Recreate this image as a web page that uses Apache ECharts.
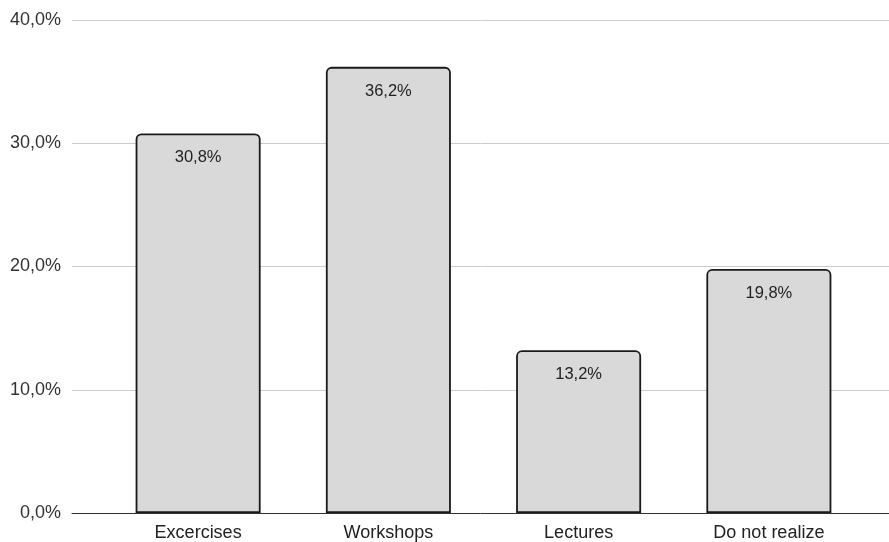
<!DOCTYPE html>
<html>
<head>
<meta charset="utf-8">
<script src="https://cdn.jsdelivr.net/npm/echarts@6/dist/echarts.min.js"></script>
<style>
  html, body { margin: 0; padding: 0; background: #fff; }
  #chart { width: 889px; height: 542px; }
</style>
</head>
<body>
<div id="chart"></div>
<script>
// Share of respondents by preferred format (percent)
const categories = ['Excercises', 'Workshops', 'Lectures', 'Do not realize'];
const shares = [30.8, 36.2, 13.2, 19.8];
const yTicks = [0, 10, 20, 30, 40];

const fmt = v => v.toFixed(1).replace('.', ',') + '%';
const FONT = '"Liberation Sans", Arial, Helvetica, sans-serif';

const chart = echarts.init(document.getElementById('chart'));
chart.setOption({
  animation: false,
  textStyle: { fontFamily: FONT },
  grid: [
    // full-width grid carrying the value axis, gridlines and baseline
    { left: 72, right: 0, top: 20, bottom: 29 },
    // inner grid where the category bars sit
    { left: 103, right: 25, top: 20, bottom: 29 }
  ],
  xAxis: [
    {
      gridIndex: 0, type: 'value', min: 0, max: 1,
      axisLine: { show: true, onZero: false, lineStyle: { color: '#333', width: 1 } },
      axisTick: { show: false }, axisLabel: { show: false }, splitLine: { show: false }
    },
    {
      gridIndex: 1, type: 'category', data: categories,
      axisLine: { show: false }, axisTick: { show: false },
      axisLabel: { color: '#222', fontSize: 18, margin: 11, fontFamily: FONT }
    }
  ],
  yAxis: [
    {
      gridIndex: 0, type: 'value', min: yTicks[0], max: yTicks[yTicks.length - 1], interval: 10,
      axisLine: { show: false }, axisTick: { show: false },
      axisLabel: { color: '#333', fontSize: 18, margin: 11, formatter: v => fmt(v), fontFamily: FONT },
      splitLine: { lineStyle: { color: '#cccccc', width: 1 } }
    },
    {
      gridIndex: 1, type: 'value', min: yTicks[0], max: yTicks[yTicks.length - 1], interval: 10,
      show: false, splitLine: { show: false }
    }
  ],
  series: [{
    type: 'bar',
    xAxisIndex: 1, yAxisIndex: 1,
    data: shares,
    barWidth: 125,
    itemStyle: {
      color: '#d9d9d9',
      borderColor: '#1a1a1a',
      borderWidth: 1.8,
      borderRadius: [5, 5, 0, 0]
    },
    label: {
      show: true,
      position: 'insideTop',
      distance: 16,
      color: '#222',
      fontSize: 16.5,
      fontFamily: FONT,
      formatter: p => fmt(p.value)
    }
  }]
});
</script>
</body>
</html>
